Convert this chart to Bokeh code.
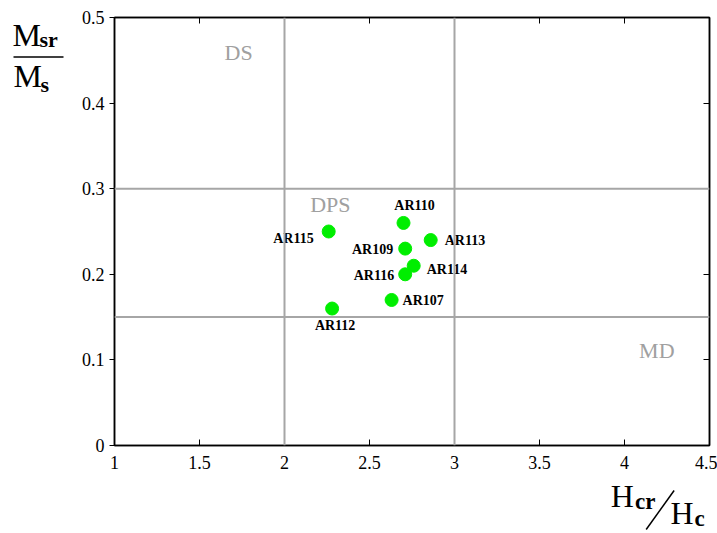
from bokeh.plotting import figure
from bokeh.models import ColumnDataSource, Span, Label, LinearAxis, FixedTicker, Range1d
from bokeh.layouts import row, column
from bokeh.core.properties import value
from bokeh.embed import file_html
from bokeh.resources import INLINE

# ---- data ----
samples = ["AR110", "AR115", "AR113", "AR109", "AR114", "AR116", "AR107", "AR112"]
hcr_hc = [2.70, 2.26, 2.86, 2.71, 2.76, 2.71, 2.63, 2.28]
mrs_ms = [0.260, 0.250, 0.240, 0.230, 0.210, 0.200, 0.170, 0.160]

x_ticks = [1, 1.5, 2, 2.5, 3, 3.5, 4, 4.5]
x_tick_labels = ["1", "1.5", "2", "2.5", "3", "3.5", "4", "4.5"]
y_ticks = [0, 0.1, 0.2, 0.3, 0.4, 0.5]
y_tick_labels = ["0", "0.1", "0.2", "0.3", "0.4", "0.5"]

hc_bounds = [2, 3]          # Hcr/Hc domain boundaries
mr_bounds = [0.15, 0.3]     # Mrs/Ms domain boundaries
regions = ["DS", "DPS", "MD"]
region_x = [1.73, 2.27, 4.19]
region_y = [0.459, 0.281, 0.111]

# label placement (style)
lab_align = ["center", "right", "left", "right", "left", "right", "left", "center"]
lab_dx = [11, -15, 14, -12, 13, -11, 11, 3]
lab_dy = [-17, 7, 0, 1, 4, 1, 1, 17]

SERIF = "Liberation Serif"
LEFT_W = 78
MAIN_H = 478
W, H = 717, 533

p = figure(width=W - LEFT_W, height=MAIN_H, output_backend="svg", toolbar_location=None,
           x_range=Range1d(1, 4.5), y_range=Range1d(0, 0.5),
           min_border_left=113 - LEFT_W, min_border_right=8, min_border_top=17,
           min_border_bottom=MAIN_H - 445)
p.background_fill_color = "white"
p.border_fill_color = "white"
p.outline_line_color = "black"
p.outline_line_width = 1.5
p.xgrid.visible = False
p.ygrid.visible = False

xa = p.xaxis[0]
xa.ticker = FixedTicker(ticks=x_ticks)
xa.major_label_overrides = {t: l for t, l in zip(x_ticks, x_tick_labels)}
xa.major_tick_in = 6
xa.major_tick_out = 0
xa.minor_tick_line_color = None
xa.major_label_standoff = 10
xa.major_label_text_font = SERIF
xa.major_label_text_font_size = "18px"
xa.major_label_text_color = "black"
xa.axis_line_width = 1.5

ya = p.yaxis[0]
ya.ticker = FixedTicker(ticks=y_ticks)
ya.major_label_overrides = {t: l for t, l in zip(y_ticks, y_tick_labels)}
ya.major_tick_in = 0
ya.major_tick_out = 5
ya.minor_tick_line_color = None
ya.major_label_standoff = 5
ya.major_label_text_font = SERIF
ya.major_label_text_font_size = "18px"
ya.major_label_text_color = "black"
ya.axis_line_width = 1.5

top = LinearAxis(ticker=FixedTicker(ticks=x_ticks), major_tick_in=6, major_tick_out=0,
                 minor_tick_line_color=None,
                 major_label_overrides={t: "" for t in x_ticks},
                 major_label_standoff=0, axis_line_width=1.5)
p.add_layout(top, "above")
right = LinearAxis(ticker=FixedTicker(ticks=y_ticks), major_tick_in=6, major_tick_out=0,
                   minor_tick_line_color=None,
                   major_label_overrides={t: "" for t in y_ticks},
                   major_label_standoff=0, axis_line_width=1.5)
p.add_layout(right, "right")

for xv in hc_bounds:
    p.add_layout(Span(location=xv, dimension="height", line_color="#a6a6a6", line_width=2))
for yv in mr_bounds:
    p.add_layout(Span(location=yv, dimension="width", line_color="#a6a6a6", line_width=2))

for t, rx, ry in zip(regions, region_x, region_y):
    p.add_layout(Label(x=rx, y=ry, text=t, text_font=SERIF, text_font_size="22px",
                       text_color="#a0a0a0", text_align="center", text_baseline="middle"))

src = ColumnDataSource(dict(x=hcr_hc, y=mrs_ms, name=samples, align=lab_align,
                            dx=lab_dx, dy=lab_dy))
p.scatter("x", "y", source=src, size=13, fill_color="#00ee00", line_color="#00ee00")
p.text("x", "y", text="name", source=src, text_align="align", x_offset="dx", y_offset="dy",
       text_baseline="middle", text_font=value(SERIF), text_font_size="14px",
       text_font_style="bold", text_color="black")


# ---- axis titles (fractions) in small companion figures, pixel coordinates from top ----
def blank(w, h):
    f = figure(width=w, height=h, output_backend="svg", toolbar_location=None,
               x_range=Range1d(0, w), y_range=Range1d(h, 0),
               x_axis_type=None, y_axis_type=None,
               min_border=0, min_border_left=0, min_border_right=0,
               min_border_top=0, min_border_bottom=0)
    f.outline_line_color = None
    f.xgrid.visible = False
    f.ygrid.visible = False
    f.background_fill_color = "white"
    f.border_fill_color = "white"
    return f

def txt(f, s, x, base, size, bold=False):
    # empirical correction so that `base` is the visual baseline
    f.text(x=[x], y=[base - 0.4 * size], text=[s], text_font=value(SERIF),
           text_font_size=f"{size}px", text_font_style="bold" if bold else "normal",
           text_color="black", text_align="left", text_baseline="alphabetic")

yl = blank(LEFT_W, H)
txt(yl, "M", 12, 47, 32)
txt(yl, "sr", 39, 48, 22, bold=True)
txt(yl, "M", 13, 88, 32)
txt(yl, "s", 40, 93, 22, bold=True)
yl.segment(x0=[13], y0=[56.5], x1=[63], y1=[56.5], line_color="black", line_width=1.5)

xl = blank(W - LEFT_W, H - MAIN_H)
ox, oy = LEFT_W, MAIN_H
txt(xl, "H", 611 - ox, 508 - oy, 32)
txt(xl, "cr", 637 - ox, 510 - oy, 23, bold=True)
txt(xl, "H", 675 - ox, 525 - oy, 32)
txt(xl, "c", 701 - ox, 527 - oy, 23, bold=True)
xl.segment(x0=[649 - ox], y0=[529 - oy], x1=[679 - ox], y1=[490 - oy],
           line_color="black", line_width=1.5)

layout = row(yl, column(p, xl, spacing=0), spacing=0)
open("out.html", "w").write(file_html(layout, INLINE))
